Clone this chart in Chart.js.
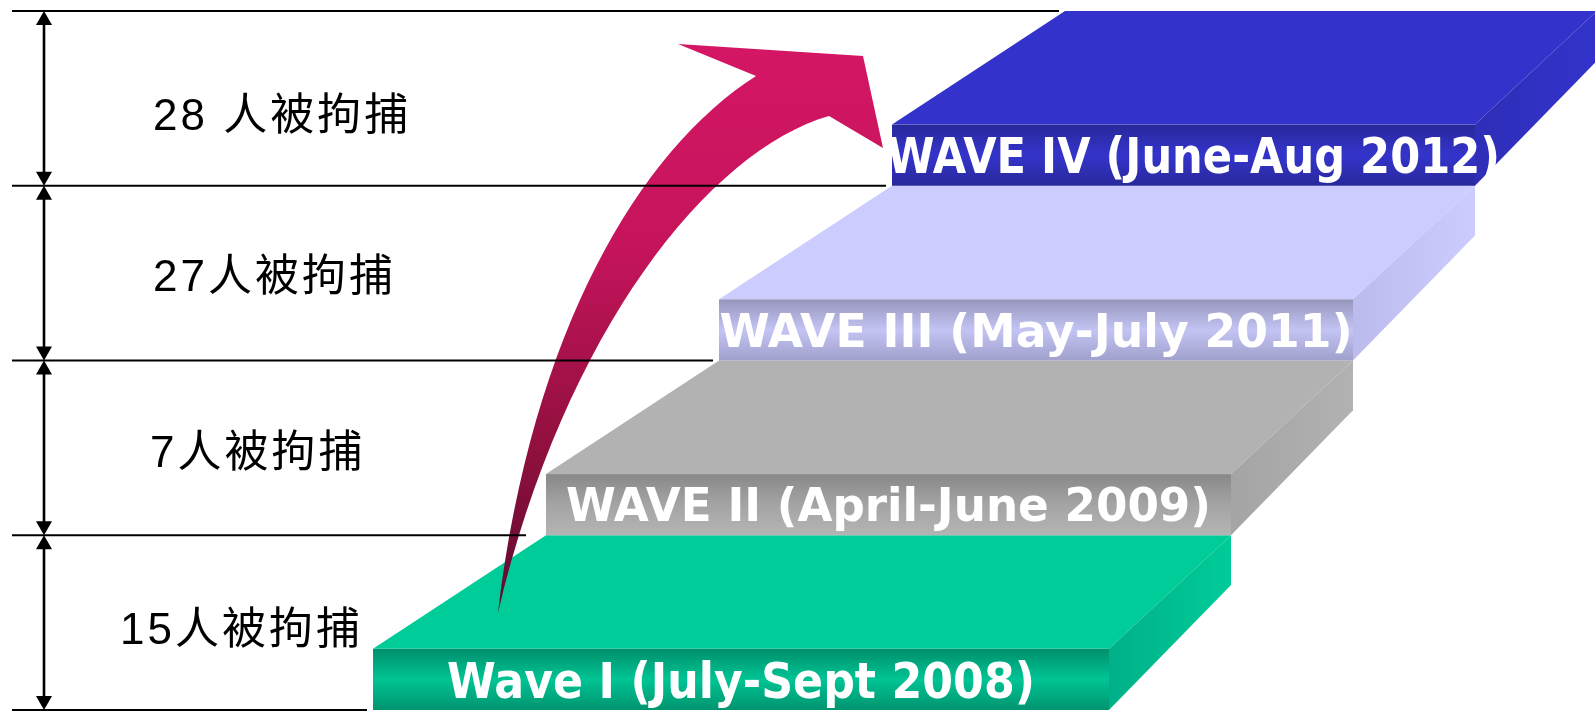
<!DOCTYPE html>
<html>
<head>
<meta charset="utf-8">
<script src="https://cdn.jsdelivr.net/npm/chart.js@4/dist/chart.umd.min.js"></script>
<style>
  html, body { margin: 0; padding: 0; background: #fff; }
  #wrap { width: 1595px; height: 712px; }
</style>
</head>
<body>
<div id="wrap"><canvas id="stairs" width="1595" height="712"></canvas></div>
<script>
// data
const waveLabels = ["Wave I (July-Sept 2008)", "WAVE II (April-June 2009)", "WAVE III (May-July 2011)", "WAVE IV (June-Aug 2012)"];
const arrested = [15, 7, 27, 28];
const arrestLabels = ["15人被拘捕", "7人被拘捕", "27人被拘捕", "28 人被拘捕"];
const levels = [0, 1, 2, 3, 4];

// look
const topColors = ["#00CC99", "#B2B2B2", "#CCCCFF", "#3333CC"];
const frontColors = [
    ["#008F6C", "#00C494", "#00946F"],
    ["#888888", "#A4A4A4", "#B4B4B4"],
    ["#9696BC", "#C4C4F4", "#A0A0CC"],
    ["#28289A", "#3434CC", "#28289A"]
];
const sideColors = [["#00B088", "#00CC99"], ["#A4A4A4", "#B2B2B2"], ["#BBBBEE", "#CCCCFF"], ["#2E2EB8", "#3333CC"]];
const waveFont = [50, 46, 46, 50];
const waveWidth = [588, 645, 633, 613];
const waveShift = [0, 0, 0, 10];
const labelLeft = [120, 150, 153, 153];
const labelShift = [5, 3, 2, 16];

// stair geometry (x in px units, y in level units)
const GEO = { frontLeft0: 373, leftStep: 173, frontRight0: 1109, rightStep: 122, faceH: 0.35, sideDrop: 0.285 };
const lv = px => (710 - px) / 174.75;
const ARROW = {
    tail: [498, lv(613)],
    outer: [[532, lv(330)], [640, lv(150)], [756, lv(76)]],
    head: [[678, lv(44)], [863, lv(56)], [883, lv(148)], [829, lv(116)]],
    inner: [[710, lv(150)], [565, lv(330)]]
};

const frontLeft = i => GEO.frontLeft0 + GEO.leftStep * i;
const frontRight = i => GEO.frontRight0 + GEO.rightStep * i;

const stairsPlugin = {
    id: "stairs",
    afterDatasetsDraw(chart) {
        const { ctx, scales: { x, y } } = chart;
        const P = (a, b) => [x.getPixelForValue(a), y.getPixelForValue(b)];
        const poly = (pts, fill) => {
            ctx.beginPath();
            pts.forEach((p, k) => k ? ctx.lineTo(p[0], p[1]) : ctx.moveTo(p[0], p[1]));
            ctx.closePath();
            ctx.fillStyle = fill;
            ctx.fill();
        };
        ctx.save();

        // steps
        waveLabels.forEach((name, i) => {
            const FL = frontLeft(i), FR = frontRight(i), BL = frontLeft(i + 1), BR = frontRight(i + 1);
            const h = i + GEO.faceH;
            poly([P(FL, h), P(FR, h), P(BR, i + 1), P(BL, i + 1)], topColors[i]);

            const s0 = P(FR, i), s1 = P(BR, i + 1);
            const sg = ctx.createLinearGradient(s0[0], 0, s1[0], 0);
            sg.addColorStop(0, sideColors[i][0]);
            sg.addColorStop(1, sideColors[i][1]);
            poly([P(FR, h), P(BR, i + 1), P(BR, i + 1 - GEO.sideDrop), P(FR, i)], sg);

            const a = P(FL, h), b = P(FR, i);
            const fg = ctx.createLinearGradient(0, a[1], 0, b[1]);
            fg.addColorStop(0, frontColors[i][0]);
            fg.addColorStop(0.5, frontColors[i][1]);
            fg.addColorStop(1, frontColors[i][2]);
            ctx.fillStyle = fg;
            ctx.fillRect(a[0], a[1], b[0] - a[0], b[1] - a[1]);

            // wave name on the front face
            ctx.save();
            ctx.beginPath();
            ctx.rect(a[0], a[1], 2000, b[1] - a[1]);
            ctx.clip();
            ctx.fillStyle = "#FFFFFF";
            ctx.font = `bold ${waveFont[i]}px "DejaVu Sans", Verdana, sans-serif`;
            ctx.textAlign = "center";
            ctx.textBaseline = "alphabetic";
            const cy = (a[1] + b[1]) / 2 + waveFont[i] * 0.73 / 2;
            ctx.fillText(name, (a[0] + b[0]) / 2 + waveShift[i], cy, waveWidth[i]);
            ctx.restore();
        });

        // curved arrow
        const t = P(...ARROW.tail);
        const o = ARROW.outer.map(p => P(...p));
        const hd = ARROW.head.map(p => P(...p));
        const inn = ARROW.inner.map(p => P(...p));
        const ag = ctx.createLinearGradient(0, hd[0][1], 0, t[1]);
        ag.addColorStop(0, "#D41664");
        ag.addColorStop(0.35, "#C6145C");
        ag.addColorStop(0.7, "#92103F");
        ag.addColorStop(1, "#5E0A30");
        ctx.beginPath();
        ctx.moveTo(t[0], t[1]);
        ctx.bezierCurveTo(o[0][0], o[0][1], o[1][0], o[1][1], o[2][0], o[2][1]);
        hd.forEach(p => ctx.lineTo(p[0], p[1]));
        ctx.bezierCurveTo(inn[0][0], inn[0][1], inn[1][0], inn[1][1], t[0], t[1]);
        ctx.closePath();
        ctx.fillStyle = ag;
        ctx.fill();

        // level lines
        ctx.strokeStyle = "#000";
        ctx.lineWidth = 2;
        levels.forEach(L => {
            const p0 = P(12, L), p1 = P(frontLeft(L) - (L === 1 ? 20 : 6), L);
            ctx.beginPath();
            ctx.moveTo(p0[0], p0[1]);
            ctx.lineTo(p1[0], p1[1]);
            ctx.stroke();
        });

        // double-headed dimension arrows and labels
        arrested.forEach((n, i) => {
            const top = P(44, i + 1), bot = P(44, i);
            const ah = 14, aw = 8;
            ctx.lineWidth = 2.6;
            ctx.beginPath();
            ctx.moveTo(top[0], top[1] + ah - 1);
            ctx.lineTo(bot[0], bot[1] - ah + 1);
            ctx.stroke();
            ctx.fillStyle = "#000";
            ctx.beginPath();
            ctx.moveTo(top[0], top[1]);
            ctx.lineTo(top[0] - aw, top[1] + ah);
            ctx.lineTo(top[0] + aw, top[1] + ah);
            ctx.closePath();
            ctx.fill();
            ctx.beginPath();
            ctx.moveTo(bot[0], bot[1]);
            ctx.lineTo(bot[0] - aw, bot[1] - ah);
            ctx.lineTo(bot[0] + aw, bot[1] - ah);
            ctx.closePath();
            ctx.fill();

            const c = P(labelLeft[i], i + 0.5);
            ctx.font = '44px "Liberation Sans", Arial, "Noto Sans CJK TC", sans-serif';
            ctx.letterSpacing = "3px";
            ctx.textAlign = "left";
            ctx.textBaseline = "alphabetic";
            ctx.fillText(arrestLabels[i], c[0], c[1] + labelShift[i] + 16);
            ctx.letterSpacing = "0px";
        });
        ctx.restore();
    }
};

new Chart(document.getElementById("stairs"), {
    type: "scatter",
    data: {
        datasets: [{
            label: "Arrests",
            data: arrested.map((n, i) => ({ x: labelLeft[i], y: i + 0.5 })),
            pointRadius: 0
        }]
    },
    options: {
        responsive: false,
        animation: false,
        layout: { padding: 0 },
        plugins: { legend: { display: false }, tooltip: { enabled: false } },
        scales: {
            x: { type: "linear", min: 0, max: 1595, display: false },
            y: { type: "linear", min: lv(712), max: lv(0), display: false }
        }
    },
    plugins: [stairsPlugin]
});
</script>
</body>
</html>
